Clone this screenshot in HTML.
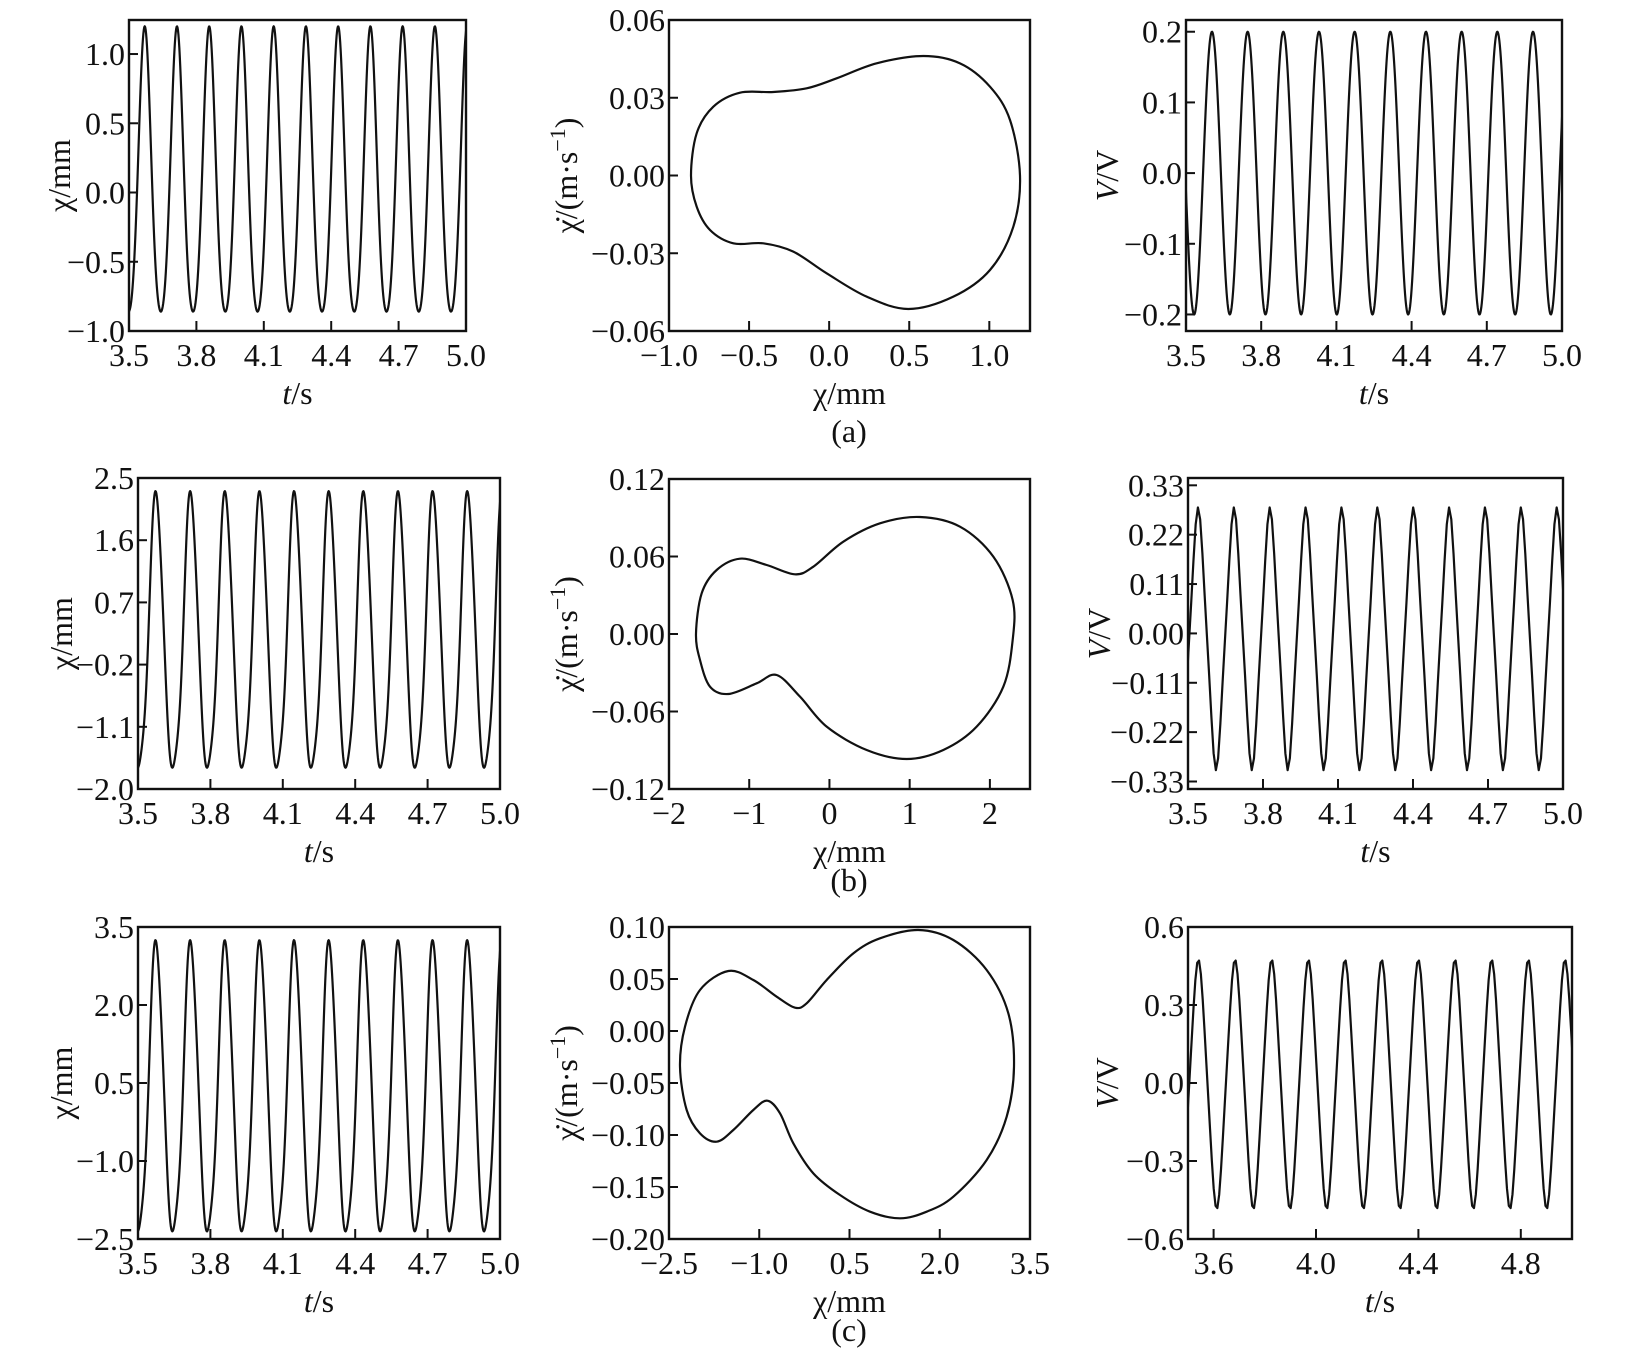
<!DOCTYPE html>
<html><head><meta charset="utf-8">
<style>
html,body{margin:0;padding:0;background:#fff;}
svg{display:block;}
text{font-family:"Liberation Serif",serif;fill:#111;}
</style></head>
<body>
<svg id="s" width="1629" height="1367" viewBox="0 0 1629 1367" xmlns="http://www.w3.org/2000/svg"></svg>
<script>
const S=document.getElementById('s');
let out='';
function txt(x,y,s,opt){opt=opt||{};
  const a=opt.anchor||'middle',fs=opt.fs||32,rot=opt.rot?` transform="rotate(-90 ${x} ${y})"`:'';
  out+=`<text x="${x}" y="${y}" font-size="${fs}" text-anchor="${a}"${rot}>${s}</text>`;}
function minus(v){return v.replace('-','\u2212');}
function panel(p){
  const {L,R,T,B}=p;
  const sx=v=>L+(v-p.x0)/(p.x1-p.x0)*(R-L), sy=v=>B-(v-p.y0)/(p.y1-p.y0)*(B-T);
  out+=`<clipPath id="c${p.id}"><rect x="${L}" y="${T}" width="${R-L}" height="${B-T}"/></clipPath>`;
  if(p.path) out+=`<path d="${p.path(sx,sy)}" fill="none" stroke="#111" stroke-width="2.2" stroke-linejoin="round" clip-path="url(#c${p.id})"/>`;
  out+=`<rect x="${L}" y="${T}" width="${R-L}" height="${B-T}" fill="none" stroke="#111" stroke-width="2.4"/>`;
  for(const [v,l] of p.xt){const x=sx(v);
    if(x>L+2&&x<R-2) out+=`<line x1="${x}" y1="${B}" x2="${x}" y2="${B-10}" stroke="#111" stroke-width="2"/>`;
    txt(x,B+35,minus(l));}
  for(const [v,l] of p.yt){const y=sy(v);
    if(y>T+2&&y<B-2) out+=`<line x1="${L}" y1="${y}" x2="${L+9}" y2="${y}" stroke="#111" stroke-width="2"/>`;
    txt(L-4,y+11,minus(l),{anchor:'end'});}
  txt((L+R)/2,B+73,p.xl);
  txt(p.ylx,(T+B)/2,p.yl,{rot:1});
}
function wave(t0,T,f,dt){return (sx,sy)=>{let d='';
  for(let t=3.45;t<=5.05;t+=dt){const ph=2*Math.PI*(t-t0)/T;d+=(d?'L':'M')+sx(t).toFixed(2)+','+sy(f(ph)).toFixed(2);}return d;};}
function closed(pts,ox,oy){return ()=>{const P=pts.map(p=>[ox+p[0]/3,oy+p[1]/3]);const n=P.length;
  let d=`M${P[0][0]},${P[0][1]}`;
  for(let i=0;i<n;i++){const p0=P[(i-1+n)%n],p1=P[i],p2=P[(i+1)%n],p3=P[(i+2)%n];
    d+=`C${(p1[0]+(p2[0]-p0[0])/6).toFixed(2)},${(p1[1]+(p2[1]-p0[1])/6).toFixed(2)} ${(p2[0]-(p3[0]-p1[0])/6).toFixed(2)},${(p2[1]-(p3[1]-p1[1])/6).toFixed(2)} ${p2[0].toFixed(2)},${p2[1].toFixed(2)}`;}
  return d+'Z';};}
const tx=[[3.5,'3.5'],[3.8,'3.8'],[4.1,'4.1'],[4.4,'4.4'],[4.7,'4.7'],[5.0,'5.0']];
const CHI='χ/mm', TS='<tspan font-style="italic">t</tspan>/s', VV='<tspan font-style="italic">V</tspan>/V';
const CHID='χ̇/(m·s<tspan dy="-12" font-size="22">−1</tspan><tspan dy="12">)</tspan>';
panel({id:1,L:129,R:466,T:20,B:331,x0:3.5,x1:5.0,y0:-1.0,y1:1.2457,xt:tx,
  yt:[[1,'1.0'],[0.5,'0.5'],[0,'0.0'],[-0.5,'-0.5'],[-1,'-1.0']],xl:TS,yl:CHI,ylx:70,
  path:wave(3.570,0.1435,ph=>0.05+1.03*Math.cos(ph)+0.12*Math.cos(2*ph),0.002)});
panel({id:2,L:669,R:1030,T:20,B:331,x0:-1,x1:1.254,y0:-0.06,y1:0.06,
  xt:[[-1,'-1.0'],[-0.5,'-0.5'],[0,'0.0'],[0.5,'0.5'],[1,'1.0']],
  yt:[[0.06,'0.06'],[0.03,'0.03'],[0,'0.00'],[-0.03,'-0.03'],[-0.06,'-0.06']],xl:CHI,yl:CHID,ylx:577,
  path:closed([[393,527],[410,400],[460,320],[540,278],[640,276],[740,265],[830,235],[950,190],[1090,168],[1200,190],[1290,260],[1350,360],[1380,527],[1360,680],[1290,810],[1180,890],[1045,927],[920,890],[800,820],[700,755],[610,730],[520,730],[450,690],[410,620]],560,0)});
panel({id:3,L:1186,R:1562,T:20,B:331,x0:3.5,x1:5.0,y0:-0.2234,y1:0.2166,xt:tx,
  yt:[[0.2,'0.2'],[0.1,'0.1'],[0,'0.0'],[-0.1,'-0.1'],[-0.2,'-0.2']],xl:TS,yl:VV,ylx:1118,
  path:wave(3.6036,0.1423,ph=>0.2*Math.cos(ph),0.002)});
txt(849,442,'(a)');
panel({id:4,L:138,R:500,T:478,B:789,x0:3.5,x1:5.0,y0:-2.0,y1:2.5,xt:tx,
  yt:[[2.5,'2.5'],[1.6,'1.6'],[0.7,'0.7'],[-0.2,'-0.2'],[-1.1,'-1.1'],[-2.0,'-2.0']],xl:TS,yl:CHI,ylx:72,
  path:wave(3.5745,0.1435,ph=>0.115+1.985*Math.cos(ph)+0.2*Math.cos(2*ph)-0.08*Math.sin(3*ph),0.002)});
panel({id:5,L:669,R:1030,T:479,B:789,x0:-2,x1:2.5,y0:-0.12,y1:0.12,
  xt:[[-2,'-2'],[-1,'-1'],[0,'0'],[1,'1'],[2,'2']],
  yt:[[0.12,'0.12'],[0.06,'0.06'],[0,'0.00'],[-0.06,'-0.06'],[-0.12,'-0.12']],xl:CHI,yl:CHID,ylx:577,
  path:closed([[408,521],[425,400],[470,330],[540,296],[620,315],[705,343],[760,320],[850,245],[960,190],[1080,171],[1200,200],[1300,290],[1358,420],[1358,540],[1330,680],[1250,800],[1150,870],[1040,897],[920,870],[800,800],[720,710],[650,645],[590,670],[505,702],[450,680],[420,600]],560,460)});
panel({id:6,L:1188,R:1563,T:478,B:789,x0:3.5,x1:5.0,y0:-0.3467,y1:0.3463,xt:tx,
  yt:[[0.33,'0.33'],[0.22,'0.22'],[0.11,'0.11'],[0,'0.00'],[-0.11,'-0.11'],[-0.22,'-0.22'],[-0.33,'-0.33']],xl:TS,yl:VV,ylx:1110,
  path:wave(3.5405,0.1435,ph=>0.275*Math.cos(ph)+0.018*Math.cos(3*ph)-0.012,0.1435/16)});
txt(849,891,'(b)');
panel({id:7,L:138,R:500,T:927,B:1239,x0:3.5,x1:5.0,y0:-2.5,y1:3.5,xt:tx,
  yt:[[3.5,'3.5'],[2.0,'2.0'],[0.5,'0.5'],[-1.0,'-1.0'],[-2.5,'-2.5']],xl:TS,yl:CHI,ylx:72,
  path:wave(3.5745,0.1435,ph=>0.205+2.775*Math.cos(ph)+0.25*Math.cos(2*ph)-0.12*Math.sin(3*ph),0.002)});
panel({id:8,L:669,R:1030,T:927,B:1239,x0:-2.5,x1:3.5,y0:-0.2,y1:0.1,
  xt:[[-2.5,'-2.5'],[-1.0,'-1.0'],[0.5,'0.5'],[2.0,'2.0'],[3.5,'3.5']],
  yt:[[0.1,'0.10'],[0.05,'0.05'],[0,'0.00'],[-0.05,'-0.05'],[-0.1,'-0.10'],[-0.15,'-0.15'],[-0.2,'-0.20']],xl:CHI,yl:CHID,ylx:577,
  path:closed([[360,500],[375,380],[420,270],[505,213],[580,240],[650,290],[705,323],[740,310],[800,240],[880,160],[960,115],[1075,90],[1180,120],[1280,210],[1345,340],[1362,500],[1340,650],[1280,780],[1180,890],[1100,935],[1020,955],[930,935],[840,885],[760,820],[700,730],[660,640],[622,602],[580,630],[520,690],[470,725],[420,700],[380,630]],560,900)});
panel({id:9,L:1188,R:1572,T:927,B:1239,x0:3.5,x1:5.0,y0:-0.6,y1:0.6,
  xt:[[3.6,'3.6'],[4.0,'4.0'],[4.4,'4.4'],[4.8,'4.8']],
  yt:[[0.6,'0.6'],[0.3,'0.3'],[0,'0.0'],[-0.3,'-0.3'],[-0.6,'-0.6']],xl:TS,yl:VV,ylx:1118,
  path:wave(3.5405,0.1432,ph=>0.46*Math.cos(ph)+0.02*Math.cos(3*ph)-0.005,0.1432/20)});
txt(849,1341,'(c)');
S.innerHTML=out;
</script>
</body></html>
